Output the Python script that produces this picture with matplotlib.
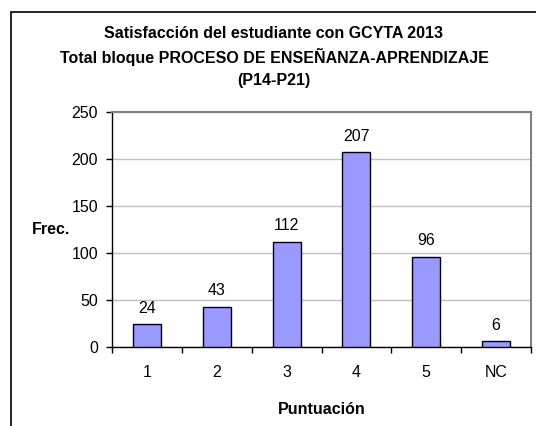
import matplotlib
matplotlib.use('Agg')
import matplotlib.pyplot as plt
from matplotlib.patches import Rectangle

plt.rcParams['font.family'] = ['Liberation Sans', 'DejaVu Sans']

# Data
categorias = ['1', '2', '3', '4', '5', 'NC']
frecuencias = [24, 43, 112, 207, 96, 6]
titulo = ['Satisfacción del estudiante con GCYTA 2013',
          'Total bloque PROCESO DE ENSEÑANZA-APRENDIZAJE',
          '(P14-P21)']

fig = plt.figure(figsize=(5.36, 4.26), dpi=100)
ax = fig.add_axes([112 / 536, 1 - 347 / 426, 419 / 536, 235 / 426])

x = list(range(len(categorias)))
bars = ax.bar(x, frecuencias, width=0.4, color='#9999FF', edgecolor='black', linewidth=1, zorder=3)
for xi, v in zip(x, frecuencias):
    ax.annotate(str(v), (xi, v), xytext=(0, 6), textcoords='offset points',
                ha='center', va='bottom', fontsize=11.5)

ax.set_xlim(-0.5, len(categorias) - 0.5)
ax.set_ylim(0, 250)
ax.set_yticks([0, 50, 100, 150, 200, 250])
ax.set_xticks(x)
ax.set_xticklabels(categorias)
ax.set_xticks([i - 0.5 for i in range(len(categorias) + 1)], minor=True)
ax.tick_params(axis='x', which='major', length=0, pad=13, labelsize=11.5)
ax.tick_params(axis='x', which='minor', length=4, width=1, direction='out')
ax.tick_params(axis='y', length=4, width=1, pad=6, labelsize=11.5)

ax.yaxis.grid(True, color='#c0c0c0', linewidth=1, zorder=0)
for s in ['top', 'right']:
    ax.spines[s].set_color('#808080')
    ax.spines[s].set_linewidth(1.5)
for s in ['left', 'bottom']:
    ax.spines[s].set_color('black')
    ax.spines[s].set_linewidth(1)

for linea, yp in zip(titulo, [33, 57, 80]):
    fig.text(274 / 536, 1 - yp / 426, linea, ha='center', va='center',
             fontsize=11.5, fontweight='bold')
fig.text(51 / 536, 1 - 229 / 426, 'Frec.', ha='center', va='center',
         fontsize=11.5, fontweight='bold')
fig.text(322 / 536, 1 - 409 / 426, 'Puntuación', ha='center', va='center',
         fontsize=11.5, fontweight='bold')

# outer chart frame
fig.patches.append(Rectangle((10.5 / 536, -0.1), 1.2, 1.1 - 12.5 / 426,
                             transform=fig.transFigure, fill=False,
                             edgecolor='black', linewidth=1.2))

plt.savefig('out.png', dpi=100)
